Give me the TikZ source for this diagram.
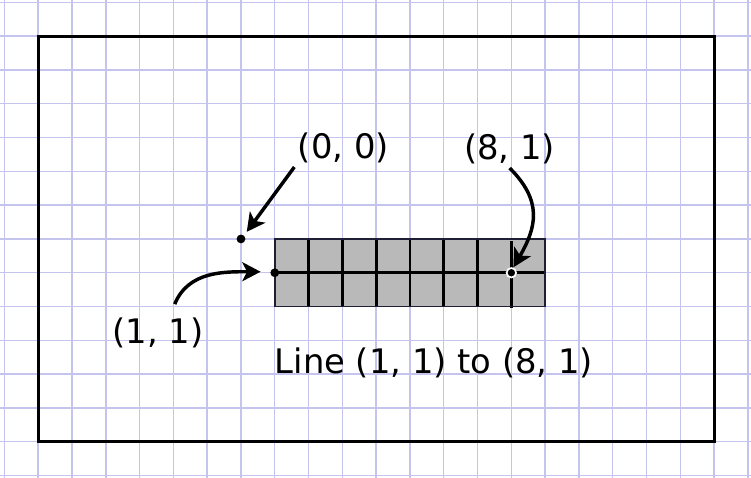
\documentclass[tikz,border=0pt]{standalone}
\usepackage{fontspec}
\setmainfont{DejaVu Sans}
\usetikzlibrary{calc,arrows.meta}
\definecolor{gridblue}{RGB}{196,196,238}
\definecolor{cellgray}{RGB}{185,185,185}
\definecolor{edgenavy}{RGB}{30,30,55}

\begin{document}
\begin{tikzpicture}[x=1cm, y=1cm,
  every node/.style={font=\fontsize{28.45}{34}\selectfont, inner sep=0.1cm},
  pointer/.style={-{Stealth[length=0.54cm, width=0.56cm, inset=0.14cm]}, line width=2.9pt}]

  % 参数
  \def\W{20}   % 外框宽(格数)
  \def\H{12}   % 外框高(格数)

  \useasboundingbox (-1.13,-1.07) rectangle (21.09,13.07);

  % ---- 背景: 方格纸 ----
  \draw[gridblue, line width=1.2pt] (-1.13,-1.07) grid (21.09,13.07);

  % ---- 外框 ----
  \draw[line width=2.6pt] (0,0) rectangle (\W,\H);

  % ---- 灰色像素块 (8 x 2) ----
  \fill[cellgray] (7,4) rectangle (15,6);
  \foreach \x in {8,...,13}
    \draw[line width=2.3pt] (\x,4) -- (\x,6);
  \draw[line width=2.3pt] (7,5) -- (15,5);
  \draw[line width=2.8pt] (14,3.97) -- (14,5.95);
  \draw[edgenavy, line width=1.5pt] (7,4) rectangle (15,6);

  % 点
  \coordinate (P00) at (6,6);
  \coordinate (P11) at (7,5);
  \coordinate (P81) at (14,5);
  \fill (P00) circle[radius=0.13];
  \fill (P11) circle[radius=0.13];
  \filldraw[fill=black, draw=white, line width=1.4pt] (P81) circle[radius=0.14];

  % 箭头终点
  \coordinate (T00) at ($(P00)+(0.17,0.21)$);
  \coordinate (T11) at ($(P11)+(-0.42,0.03)$);
  \coordinate (T81) at ($(P81)+(0.06,0.16)$);

  % ---- 标签 ----
  \node (lbl00) at (9.03,8.68) {(0, 0)};
  \node (lbl81) at (13.95,8.65) {(8, 1)};
  \node (lbl11) at (3.54,3.22) {(1, 1)};
  \node (caption) at (11.71,2.34) {Line (1, 1) to (8, 1)};

  % ---- 箭头 ----
  \draw[pointer] (lbl00.south west) -- (T00);
  \draw[pointer] (lbl81.south) to[out=-45, in=60, looseness=1.2] (T81);
  \draw[pointer] ($(lbl11.north)+(0.5,0.3)$) to[out=68, in=180] (T11);

\end{tikzpicture}
\end{document}
